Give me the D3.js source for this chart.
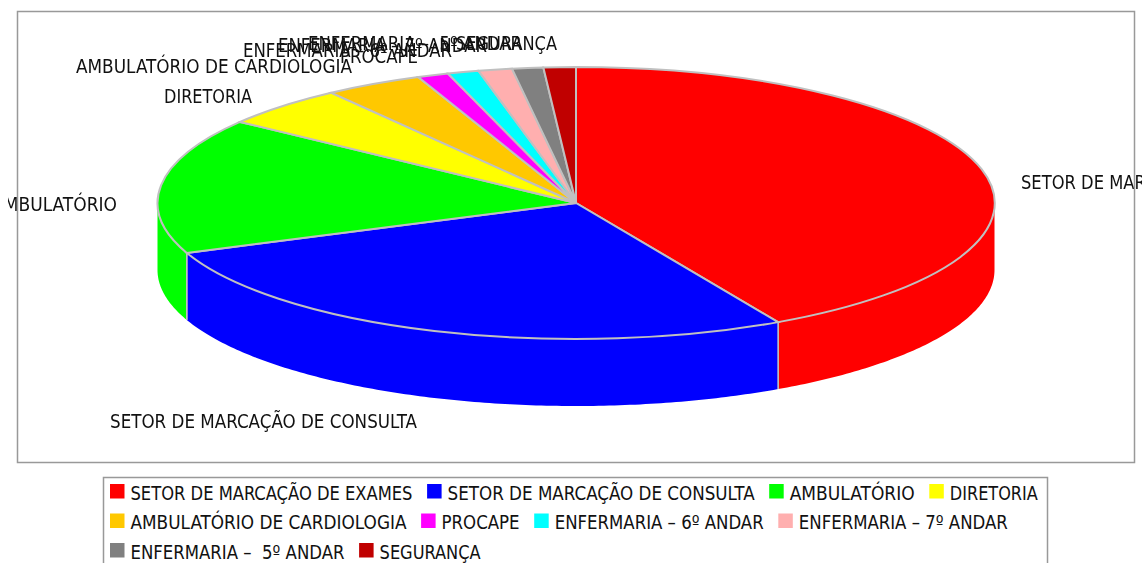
<!DOCTYPE html>
<html>
<head>
<meta charset="utf-8">
<script src="https://cdnjs.cloudflare.com/ajax/libs/d3/7.8.5/d3.min.js"></script>
<style>
  html, body { margin: 0; padding: 0; background: #fff; overflow: hidden; }
  svg { display: block; filter: blur(0.5px); }
  text { font-family: "DejaVu Sans Condensed", "DejaVu Sans", sans-serif; font-size: 19px; fill: #111; white-space: pre; }
</style>
</head>
<body>
<div class="graph"></div>
<script>
// Data
let categories = [
  "SETOR DE MARCAÇÃO DE EXAMES",
  "SETOR DE MARCAÇÃO DE CONSULTA",
  "AMBULATÓRIO",
  "DIRETORIA",
  "AMBULATÓRIO DE CARDIOLOGIA",
  "PROCAPE",
  "ENFERMARIA – 6º ANDAR",
  "ENFERMARIA – 7º ANDAR",
  "ENFERMARIA –  5º ANDAR",
  "SEGURANÇA",
];
let values = [42.0, 27.05, 16.15, 4.9, 3.8, 1.2, 1.2, 1.3, 1.2, 1.25];
let colors = [
  "#ff0000", "#0000ff", "#00ff00", "#ffff00", "#ffc800",
  "#ff00ff", "#00ffff", "#ffafaf", "#808080", "#c00000",
];

// Layout
let width = 1146;
let height = 563;
let cx = 576;
let cy = 203;
let rx = 418.5;
let ry = 136;
let depth = 67;
let edge = "#c0c0c0";
// left edge, baseline and drawn width of each slice label
let labelX = [1021, 110, -8, 164, 76, 340, 243, 278, 308, 456];
let labelY = [188.5, 427.5, 210.5, 102.5, 72.5, 62.5, 56.5, 51.5, 49.5, 49.5];
let textWidth = [282, 307, 125, 88, 276, 78, 209, 209, 214, 101];
let legendRows = [4, 8, 10];

let svg = d3
  .select(".graph")
  .append("svg")
  .attr("width", width)
  .attr("height", height);

svg
  .append("defs")
  .append("clipPath")
  .attr("id", "labelClip")
  .append("rect")
  .attr("x", 8)
  .attr("y", 0)
  .attr("width", 1134)
  .attr("height", height);

// Pie angles, clockwise from twelve o'clock
let pie = d3.pie().sort(null)(values);
let px = (a) => cx + rx * Math.sin(a);
let py = (a) => cy - ry * Math.cos(a);

// Side walls: only the front half of the ellipse shows
let wallArea = d3
  .area()
  .x((a) => px(a))
  .y0((a) => py(a))
  .y1((a) => py(a) + depth);

let walls = svg.append("g").attr("class", "walls");
pie.forEach(function (d, i) {
  let a0 = Math.max(d.startAngle, Math.PI / 2);
  let a1 = Math.min(d.endAngle, (3 * Math.PI) / 2);
  if (a1 <= a0) return;
  let n = Math.ceil((a1 - a0) * 80);
  let angles = d3.range(n + 1).map((k) => a0 + ((a1 - a0) * k) / n);
  walls.append("path").attr("d", wallArea(angles)).attr("fill", colors[i]);
  // vertical seams between visible walls
  [d.startAngle, d.endAngle].forEach(function (a) {
    if (a > Math.PI / 2 && a < (3 * Math.PI) / 2) {
      walls
        .append("line")
        .attr("x1", px(a))
        .attr("x2", px(a))
        .attr("y1", py(a))
        .attr("y2", py(a) + depth)
        .attr("stroke", edge)
        .attr("stroke-width", 1.5);
    }
  });
});

// Top surface: unit arc stretched onto the ellipse
let arc = d3.arc().innerRadius(0).outerRadius(1);
svg
  .append("g")
  .attr("class", "slices")
  .attr("transform", `translate(${cx},${cy}) scale(${rx},${ry})`)
  .selectAll("path")
  .data(pie)
  .enter()
  .append("path")
  .attr("d", arc)
  .attr("fill", (d, i) => colors[i])
  .attr("stroke", edge)
  .attr("stroke-width", 2)
  .attr("vector-effect", "non-scaling-stroke");

// Slice labels
svg
  .append("g")
  .attr("class", "labels")
  .attr("clip-path", "url(#labelClip)")
  .selectAll("text")
  .data(categories)
  .enter()
  .append("text")
  .attr("x", (d, i) => labelX[i])
  .attr("y", (d, i) => labelY[i])
  .attr("textLength", (d, i) => textWidth[i])
  .attr("lengthAdjust", "spacingAndGlyphs")
  .text((d) => d);

// Plot frame, over the labels that run across it
svg
  .append("rect")
  .attr("x", 17.5)
  .attr("y", 11.5)
  .attr("width", 1117)
  .attr("height", 451)
  .attr("fill", "none")
  .attr("stroke", "#999")
  .attr("stroke-width", 1.5);

// Legend
let legend = svg.append("g").attr("class", "legend");
legend
  .append("rect")
  .attr("x", 103.5)
  .attr("y", 477.5)
  .attr("width", 944)
  .attr("height", 100)
  .attr("fill", "#fff")
  .attr("stroke", "#999")
  .attr("stroke-width", 1.5);

let rowY = d3.scaleLinear().domain([0, 1]).range([484, 513.5]);
let row = 0;
let x = 110;
categories.forEach(function (name, i) {
  if (i === legendRows[row]) {
    row += 1;
    x = 110;
  }
  legend
    .append("rect")
    .attr("x", x)
    .attr("y", rowY(row))
    .attr("width", 14.5)
    .attr("height", 14.5)
    .attr("fill", colors[i]);
  legend
    .append("text")
    .attr("x", x + 20.5)
    .attr("y", rowY(row) + 15.7)
    .attr("textLength", textWidth[i])
    .attr("lengthAdjust", "spacingAndGlyphs")
    .text(name);
  x += 20.5 + textWidth[i] + 14.6;
});
</script>
</body>
</html>
